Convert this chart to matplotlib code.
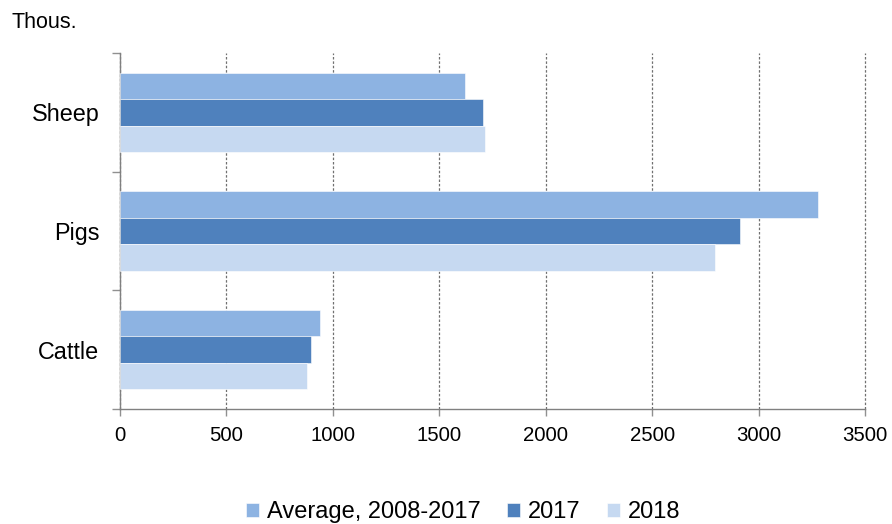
import numpy as np
import matplotlib.pyplot as plt

plt.rcParams['font.family'] = ['Liberation Sans', 'DejaVu Sans']

# data (thousand heads)
categories = ['Cattle', 'Pigs', 'Sheep']
avg_2008_2017 = [938, 3277, 1621]
y2017 = [899, 2914, 1704]
y2018 = [878, 2795, 1715]
series_labels = ['Average, 2008-2017', '2017', '2018']
colors = ['#8DB3E2', '#4F81BD', '#C6D9F1']
xticks = [0, 500, 1000, 1500, 2000, 2500, 3000, 3500]

fig = plt.figure(figsize=(8.92, 5.24), dpi=100)
ax = fig.add_axes([120 / 892, 1 - 409 / 524, 745 / 892, 356 / 524])

pos = np.arange(len(categories))
h = 0.223
series = [avg_2008_2017, y2017, y2018]
offsets = [h, 0, -h]
for vals, off, col, lab in zip(series, offsets, colors, series_labels):
    ax.barh(pos + off, vals, height=h, color=col, edgecolor='white',
            linewidth=0.4, label=lab, zorder=3)

ax.set_xlim(0, 3500)
ax.set_ylim(-0.5, 2.5)
ax.set_xticks(xticks)
ax.set_xticklabels([str(t) for t in xticks], fontsize=14.7)
ax.set_yticks(pos)
ax.set_yticklabels(categories, fontsize=16.8)
ax.set_yticks([-0.5, 0.5, 1.5, 2.5], minor=True)
ax.tick_params(axis='y', which='major', length=0, pad=15)
ax.tick_params(axis='y', which='minor', length=6, color='#909090', width=1)
ax.tick_params(axis='x', length=5, color='#909090', width=1, pad=7)

ax.xaxis.grid(True, color='#707070', linestyle=(0, (2, 1.5)), linewidth=0.9, zorder=0)
for gl in ax.get_xgridlines():
    gl.set_clip_on(False)
for s in ['top', 'right']:
    ax.spines[s].set_visible(False)
for s in ['left', 'bottom']:
    ax.spines[s].set_color('#808080')
    ax.spines[s].set_linewidth(1)

fig.text(11 / 892, 1 - 23 / 524, 'Thous.', fontsize=15.5, va='center', ha='left')

# legend sits low, just clear of the bottom edge
handles, labels = ax.get_legend_handles_labels()
fig.legend(handles, labels, loc='center', bbox_to_anchor=(463 / 892, 1 - 512 / 524),
           ncol=3, frameon=False, fontsize=17, handlelength=0.55, handleheight=0.55,
           handletextpad=0.35, columnspacing=1.1)

fig.savefig('out.png', dpi=100)
